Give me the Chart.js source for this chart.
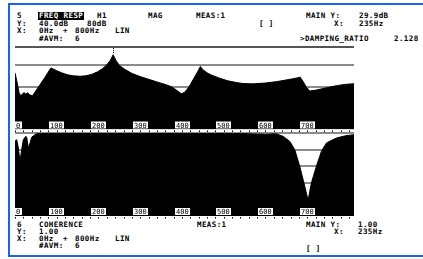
<!DOCTYPE html>
<html>
<head>
<meta charset="utf-8">
<script src="https://cdn.jsdelivr.net/npm/chart.js@4/dist/chart.umd.min.js"></script>
<style>
  body { margin: 0; background: #fff; width: 423px; height: 259px; overflow: hidden; position: relative; font-family: 'DejaVu Sans Mono', monospace; }
  .t { position: absolute; font-size: 7.5px; line-height: 7.5px; letter-spacing: 0.4px; white-space: pre; color: #000; font-weight: bold; }
  .inv { background: #000; color: #fff; padding: 0 1px; margin-left: -1px; }
  .blue { position: absolute; background: #1a62f2; }
  #sep { position: absolute; left: 15px; top: 46px; width: 339px; height: 1.5px; background: #555; }
  canvas { position: absolute; }
  #top { left: 15px; top: 44px; }
  #bot { left: 15px; top: 132px; }
</style>
</head>
<body>
<div class="blue" style="left:8px;top:3px;width:2px;height:254px"></div>
<div class="blue" style="left:8px;top:3px;width:415px;height:2px"></div>
<div class="blue" style="left:8px;top:255px;width:415px;height:2px"></div>

<!-- header, trace 5 -->
<div class="t" style="left:17px;top:12.4px">5</div>
<div class="t inv" style="left:39px;top:12.4px">FREQ RESP</div>
<div class="t" style="left:97px;top:12.4px">H1</div>
<div class="t" style="left:148px;top:12.4px">MAG</div>
<div class="t" style="left:196px;top:12.4px">MEAS:1</div>
<div class="t" style="left:306px;top:12.4px">MAIN Y:</div>
<div class="t" style="left:359px;top:12.4px">29.9dB</div>
<div class="t" style="left:17px;top:19.9px">Y:</div>
<div class="t" style="left:39px;top:19.9px">40.0dB</div>
<div class="t" style="left:87px;top:19.9px">80dB</div>
<div class="t" style="left:259px;top:19.9px">[ ]</div>
<div class="t" style="left:334px;top:19.9px">X:</div>
<div class="t" style="left:359px;top:19.9px">235Hz</div>
<div class="t" style="left:17px;top:27.4px">X:</div>
<div class="t" style="left:39px;top:27.4px">0Hz</div>
<div class="t" style="left:63px;top:27.4px">+</div>
<div class="t" style="left:75px;top:27.4px">800Hz</div>
<div class="t" style="left:115px;top:27.4px">LIN</div>
<div class="t" style="left:39px;top:35px">#AVM:</div>
<div class="t" style="left:75px;top:35px">6</div>
<div class="t" style="left:300px;top:35px">&gt;DAMPING_RATIO</div>
<div class="t" style="left:394px;top:35px">2.128</div>
<div id="sep"></div>

<canvas id="top" width="339" height="88"></canvas>
<canvas id="bot" width="339" height="88"></canvas>

<!-- footer, trace 6 -->
<div class="t" style="left:17px;top:221px">6</div>
<div class="t" style="left:39px;top:221px">COHERENCE</div>
<div class="t" style="left:197px;top:221px">MEAS:1</div>
<div class="t" style="left:306px;top:221px">MAIN Y:</div>
<div class="t" style="left:358px;top:221px">1.00</div>
<div class="t" style="left:17px;top:228px">Y:</div>
<div class="t" style="left:39px;top:228px">1.00</div>
<div class="t" style="left:334px;top:228px">X:</div>
<div class="t" style="left:358px;top:228px">235Hz</div>
<div class="t" style="left:17px;top:235px">X:</div>
<div class="t" style="left:39px;top:235px">0Hz</div>
<div class="t" style="left:63px;top:235px">+</div>
<div class="t" style="left:75px;top:235px">800Hz</div>
<div class="t" style="left:115px;top:235px">LIN</div>
<div class="t" style="left:39px;top:242px">#AVM:</div>
<div class="t" style="left:75px;top:242px">6</div>
<div class="t" style="left:306px;top:245px">[ ]</div>

<script>
// frequency response H1, magnitude in dB
const freqResp = [0, 4, 10, 14, 18, 22, 26, 30, 35, 42, 50, 60, 72, 86, 92, 100, 112, 125, 140, 155, 170, 185, 198, 210, 220, 228, 235, 242, 250, 262, 280, 300, 320, 340, 360, 375, 388, 398, 405, 412, 420, 430, 438, 444, 450, 460, 470, 490, 510, 530, 546, 570, 600, 625, 645, 662, 676, 683, 690, 698, 706, 720, 746, 770, 790, 812];
const magDb = [13, 6, -6, -8.5, -6.5, -5.5, -7, -5.5, -7.5, -8.5, -3.8, 2, 9, 17.6, 16.5, 15, 13, 11.3, 10.2, 9.8, 10.2, 11.8, 14, 17, 20.5, 24.5, 29.9, 24.5, 20, 16.5, 12.5, 9.5, 7, 4.5, 2.2, 0, -3.5, -6.5, -5.5, -2.5, 2, 9, 14.5, 19, 16, 13, 11, 8, 5.5, 4, 3, 2.7, 3.5, 4.7, 6, 7.2, 8.3, 9, 5, -0.5, -4, -3.2, -1, 1, 2.2, 2.8];

// coherence
const freqCoh = [0, 4, 8, 12, 16, 20, 26, 28, 32, 36, 40, 48, 56, 100, 200, 300, 400, 500, 560, 600, 626, 642, 658, 670, 682, 692, 702, 710, 722, 734, 746, 770, 790, 812];
const coh = [0.9, 0.92, 0.82, 0.66, 0.8, 0.92, 0.96, 0.95, 0.82, 0.88, 0.95, 0.98, 1, 1, 1, 1, 1, 1, 0.99, 0.985, 0.99, 0.96, 0.9, 0.8, 0.6, 0.4, 0.19, 0.4, 0.6, 0.78, 0.88, 0.94, 0.965, 0.98];

const tickLabels = [0, 100, 200, 300, 400, 500, 600, 700];
const cursorHz = 235;
const cursorDb = 29.9;

const axisPlugin = {
    id: 'hpAxis',
    afterDatasetsDraw(chart) {
        const { ctx, chartArea } = chart;
        const x = chart.scales.x;
        const yb = chartArea.bottom;
        ctx.save();
        ctx.fillStyle = '#fff';
        ctx.fillRect(chartArea.left, yb + 0.5, chartArea.right - chartArea.left, 2);
        ctx.fillStyle = '#000';
        for (let f = 0; f <= 800; f += 20) {
            ctx.fillRect(Math.round(x.getPixelForValue(f)), yb + 1, 1, 1.5);
        }
        ctx.font = '7px "DejaVu Sans Mono"';
        tickLabels.forEach(v => {
            const s = String(v);
            const w = ctx.measureText(s).width;
            let left = Math.max(x.getPixelForValue(v) - w / 2 - 1, chartArea.left);
            ctx.fillStyle = '#fff';
            ctx.fillRect(Math.round(left), yb - 8, Math.ceil(w) + 2, 7);
            ctx.fillStyle = '#000';
            ctx.fillText(s, Math.round(left) + 1, yb - 2);
        });
        ctx.restore();
    }
};

const cursorPlugin = {
    id: 'cursor',
    afterDatasetsDraw(chart) {
        const { ctx } = chart;
        const px = Math.round(chart.scales.x.getPixelForValue(cursorHz));
        const py = chart.scales.y.getPixelForValue(cursorDb);
        ctx.save();
        ctx.fillStyle = '#000';
        for (let yy = 4; yy < py - 1; yy += 2) ctx.fillRect(px, yy, 1, 1);
        ctx.restore();
    }
};

const gridColor = (vals) => (c) => vals.includes(c.tick.value) ? '#8c8c8c' : 'rgba(0,0,0,0)';

new Chart(document.getElementById('top'), {
    type: 'line',
    data: {
        datasets: [{
            data: freqResp.map((f, i) => ({ x: f, y: magDb[i] })),
            fill: 'start',
            backgroundColor: '#000',
            borderColor: '#000',
            borderWidth: 1,
            pointRadius: 0,
            tension: 0
        }]
    },
    options: {
        responsive: false,
        animation: false,
        events: [],
        layout: { padding: { top: 0, bottom: 2.5, left: 0, right: 0 } },
        plugins: { legend: { display: false }, tooltip: { enabled: false } },
        scales: {
            x: { type: 'linear', min: 0, max: 812, display: false },
            y: {
                min: -40, max: 40,
                ticks: { display: false, stepSize: 20 },
                border: { display: false },
                grid: { drawTicks: false, lineWidth: 2, color: gridColor([20, 0, -20]) }
            }
        }
    },
    plugins: [axisPlugin, cursorPlugin]
});

new Chart(document.getElementById('bot'), {
    type: 'line',
    data: {
        datasets: [{
            data: freqCoh.map((f, i) => ({ x: f, y: coh[i] })),
            fill: 'start',
            backgroundColor: '#000',
            borderColor: '#000',
            borderWidth: 1,
            pointRadius: 0,
            tension: 0
        }]
    },
    options: {
        responsive: false,
        animation: false,
        events: [],
        layout: { padding: { top: 1, bottom: 4, left: 0, right: 0 } },
        plugins: { legend: { display: false }, tooltip: { enabled: false } },
        scales: {
            x: { type: 'linear', min: 0, max: 812, display: false },
            y: {
                min: 0, max: 1,
                ticks: { display: false, stepSize: 0.2 },
                border: { display: false },
                grid: { drawTicks: false, lineWidth: 2, color: (c) => c.tick.value > 0.01 ? '#8c8c8c' : 'rgba(0,0,0,0)' }
            }
        }
    },
    plugins: [axisPlugin]
});
</script>
</body>
</html>
